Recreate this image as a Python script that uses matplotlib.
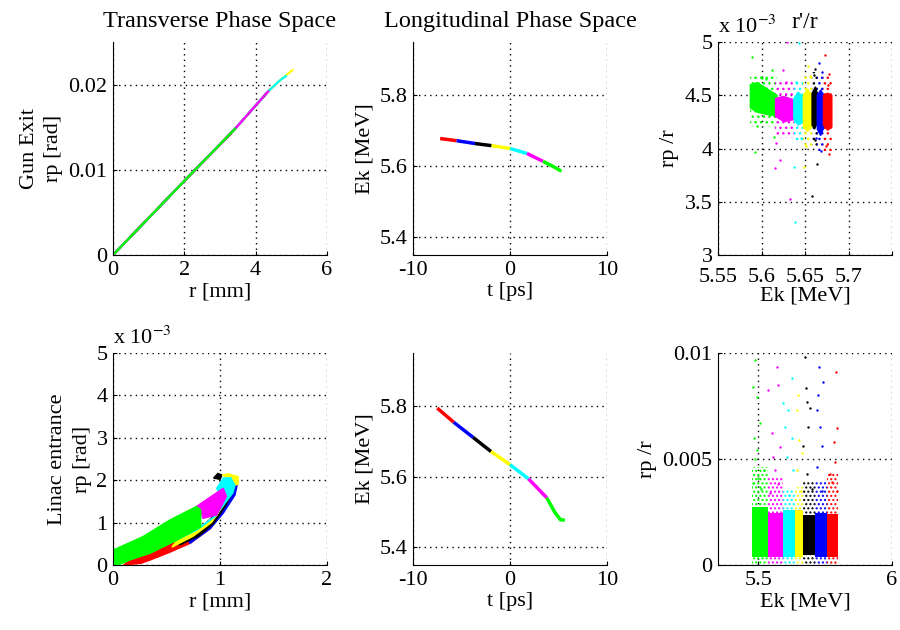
import numpy as np
import matplotlib
matplotlib.use("Agg")
import matplotlib.pyplot as plt
from matplotlib.ticker import FixedLocator, FixedFormatter

plt.rcParams['font.family'] = ['Liberation Serif', 'DejaVu Serif']
plt.rcParams['font.size'] = 16
plt.rcParams['axes.unicode_minus'] = False
plt.rcParams['mathtext.fontset'] = 'stix'
plt.rcParams['hatch.linewidth'] = 1.0

# matlab colours
cols = {'r': (1, 0, 0), 'b': (0, 0, 1), 'k': (0, 0, 0), 'y': (1, 1, 0),
        'c': (0, 1, 1), 'm': (1, 0, 1), 'g': (0, 1, 0)}
order = ['r', 'b', 'k', 'y', 'c', 'm', 'g']
order_e = ['g', 'm', 'c', 'y', 'k', 'b', 'r']

# --- gun exit, transverse (r [mm], rp [rad])
gun_r = {'r': [0, 2.0, 3.3], 'b': [0, 2.0, 3.42, 4.3], 'k': [0, 2.0, 3.42, 4.4],
         'y': [0, 2.0, 3.42, 4.35, 4.68, 5.03], 'c': [0, 2.0, 3.42, 4.35, 4.68, 4.85],
         'm': [0, 2.0, 3.42, 4.35], 'g': [0, 2.0, 3.42]}
gun_rp = {'r': [0, 0.0087, 0.0142], 'b': [0, 0.0087, 0.0148, 0.0190], 'k': [0, 0.0087, 0.0148, 0.0194],
          'y': [0, 0.0087, 0.0148, 0.0192, 0.0205, 0.0217], 'c': [0, 0.0087, 0.0148, 0.0192, 0.0205, 0.0210],
          'm': [0, 0.0087, 0.0148, 0.0192], 'g': [0, 0.0087, 0.0148]}

# --- gun exit, longitudinal (t [ps], Ek [MeV])
gun_t = {'r': [-7.2, -5.5], 'b': [-5.5, -3.6], 'k': [-3.6, -1.9], 'y': [-1.9, 0.0],
         'c': [0.0, 1.75], 'm': [1.75, 3.4], 'g': [3.4, 4.4, 5.3]}
gun_ek = {'r': [5.678, 5.672], 'b': [5.672, 5.664], 'k': [5.664, 5.658], 'y': [5.658, 5.650],
          'c': [5.650, 5.636], 'm': [5.636, 5.614], 'g': [5.614, 5.600, 5.586]}

# --- linac entrance, longitudinal
lin_t = {'r': [-7.5, -5.8], 'b': [-5.8, -3.8], 'k': [-3.8, -1.95], 'y': [-1.95, 0.0],
         'c': [0.0, 1.9], 'm': [1.9, 3.8], 'g': [3.8, 4.6, 5.2, 5.65]}
lin_ek = {'r': [5.794, 5.754], 'b': [5.754, 5.711], 'k': [5.711, 5.671], 'y': [5.671, 5.634],
          'c': [5.634, 5.594], 'm': [5.594, 5.540], 'g': [5.540, 5.500, 5.478, 5.477]}

# --- linac entrance, transverse cloud outlines (r [mm], rp [1e-3 rad]); several patches per colour
lin_r = {'r': [[0.10, 0.26, 0.35, 0.53, 0.72, 0.91, 0.95, 0.82, 0.60, 0.35, 0.16]],
         'b': [[0.72, 0.91, 1.03, 1.14, 1.17, 1.12, 1.06, 0.97, 0.82, 0.70]],
         'k': [[0.62, 0.80, 0.94, 1.04, 1.12, 1.15, 1.10, 1.04, 0.96, 0.82, 0.62],
               [0.94, 0.98, 1.02, 1.00]],
         'y': [[0.55, 0.75, 0.92, 1.03, 1.10, 1.06, 0.97, 0.82, 0.60],
               [1.02, 1.08, 1.17, 1.17, 1.13, 1.12]],
         'c': [[0.97, 1.03, 1.10, 1.14, 1.12, 1.06, 1.00, 0.93, 0.78, 0.60, 0.45,
                0.50, 0.70, 0.82, 0.97, 1.02]],
         'm': [[0.78, 1.03, 1.06, 0.97, 0.84, 0.82]],
         'g': [[0.0, 0.0, 0.28, 0.53, 0.78, 0.82, 0.82, 0.60, 0.35, 0.16, 0.05]]}
lin_rp = {'r': [[0.0, 0.04, 0.12, 0.30, 0.51, 0.86, 1.00, 0.90, 0.59, 0.28, 0.12]],
          'b': [[0.51, 0.86, 1.22, 1.65, 2.00, 1.95, 1.62, 1.18, 0.90, 0.62]],
          'k': [[0.47, 0.68, 0.98, 1.35, 1.72, 1.95, 1.88, 1.60, 1.20, 0.88, 0.56],
                [2.05, 2.16, 2.12, 2.02]],
          'y': [[0.42, 0.68, 1.00, 1.40, 1.80, 1.62, 1.18, 0.90, 0.59],
                [2.12, 2.15, 2.08, 1.90, 1.88, 2.02]],
          'c': [[1.81, 2.05, 2.06, 1.88, 1.70, 1.50, 1.30, 1.10, 0.82, 0.60, 0.42,
                 0.48, 0.75, 0.90, 1.18, 1.50]],
          'm': [[1.38, 1.81, 1.62, 1.18, 1.10, 1.30]],
          'g': [[0.0, 0.35, 0.67, 1.06, 1.38, 1.30, 0.90, 0.59, 0.28, 0.12, 0.0]]}

# --- gun exit rp/r vs Ek [1e-3]: dense core outline, sparse halo band, stray particles
g_core_ek = {'g': [5.587, 5.587, 5.595, 5.605, 5.618, 5.618, 5.605, 5.595],
             'm': [5.616, 5.616, 5.625, 5.637, 5.637, 5.626],
             'c': [5.637, 5.637, 5.642, 5.648, 5.648, 5.642],
             'y': [5.648, 5.648, 5.653, 5.658, 5.658, 5.653],
             'k': [5.658, 5.658, 5.662, 5.665, 5.665, 5.661],
             'b': [5.664, 5.664, 5.668, 5.672, 5.672, 5.668],
             'r': [5.671, 5.671, 5.676, 5.681, 5.681, 5.676]}
g_core_rr = {'g': [4.38, 4.60, 4.62, 4.57, 4.50, 4.30, 4.32, 4.34],
             'm': [4.30, 4.47, 4.49, 4.46, 4.27, 4.25],
             'c': [4.28, 4.47, 4.53, 4.49, 4.24, 4.22],
             'y': [4.20, 4.50, 4.56, 4.50, 4.20, 4.16],
             'k': [4.22, 4.52, 4.58, 4.50, 4.25, 4.18],
             'b': [4.18, 4.50, 4.55, 4.50, 4.20, 4.12],
             'r': [4.22, 4.50, 4.52, 4.50, 4.20, 4.17]}
g_halo_lo = {'g': 4.20, 'm': 4.10, 'c': 4.08, 'y': 4.02, 'k': 4.00, 'b': 3.98, 'r': 3.98}
g_halo_hi = {'g': 4.70, 'm': 4.62, 'c': 4.65, 'y': 4.68, 'k': 4.72, 'b': 4.70, 'r': 4.68}
g_out_ek = {'g': [5.589, 5.593, 5.600, 5.614, 5.612, 5.595, 5.605],
            'm': [5.629, 5.625, 5.616, 5.633, 5.621, 5.617, 5.628],
            'c': [5.643, 5.637, 5.639, 5.645, 5.640],
            'y': [5.654, 5.649, 5.651, 5.656],
            'k': [5.660, 5.664, 5.658, 5.662, 5.661],
            'b': [5.666, 5.668, 5.663, 5.670],
            'r': [5.673, 5.678, 5.678, 5.674, 5.676]}
g_out_rr = {'g': [4.86, 3.97, 4.66, 4.11, 4.74, 4.21, 4.65],
            'm': [5.00, 4.74, 3.82, 3.53, 3.89, 4.05, 4.62],
            'c': [4.99, 3.83, 3.31, 4.10, 4.62],
            'y': [4.77, 3.83, 4.02, 4.68],
            'k': [4.69, 3.85, 3.55, 4.08, 4.75],
            'b': [4.80, 3.98, 4.10, 4.72],
            'r': [4.88, 3.95, 4.70, 4.02, 4.60]}

# --- linac entrance rp/r vs Ek [1e-3]
l_ek_lo = {'g': 5.476, 'm': 5.538, 'c': 5.594, 'y': 5.638, 'k': 5.669, 'b': 5.712, 'r': 5.756}
l_ek_hi = {'g': 5.538, 'm': 5.594, 'c': 5.638, 'y': 5.669, 'k': 5.712, 'b': 5.756, 'r': 5.800}
l_rr_lo = {'g': 0.40, 'm': 0.40, 'c': 0.40, 'y': 0.40, 'k': 0.45, 'b': 0.40, 'r': 0.40}
l_rr_hi = {'g': 2.75, 'm': 2.45, 'c': 2.60, 'y': 2.60, 'k': 2.35, 'b': 2.45, 'r': 2.40}
l_halo_hi = {'g': 4.60, 'm': 4.10, 'c': 3.60, 'y': 3.70, 'k': 3.90, 'b': 3.90, 'r': 4.30}
l_out_ek = {'g': [5.489, 5.482, 5.495, 5.507, 5.495, 5.520, 5.481, 5.500, 5.485, 5.512, 5.490],
            'm': [5.570, 5.576, 5.538, 5.551, 5.582, 5.557, 5.562, 5.545, 5.575],
            'c': [5.628, 5.594, 5.612, 5.601, 5.626, 5.607, 5.631, 5.615],
            'y': [5.650, 5.644, 5.654, 5.662, 5.644, 5.660],
            'k': [5.675, 5.679, 5.681, 5.694, 5.687, 5.669, 5.681, 5.700],
            'b': [5.729, 5.744, 5.724, 5.718, 5.731, 5.737, 5.718, 5.740],
            'r': [5.791, 5.794, 5.784, 5.787, 5.769, 5.796, 5.775]}
l_out_rr = {'g': [9.67, 8.41, 7.94, 6.70, 5.42, 4.48, 3.87, 4.10, 6.00, 3.60, 5.00],
            'm': [9.35, 8.49, 8.25, 6.21, 5.58, 5.10, 4.50, 3.40, 3.80],
            'c': [8.80, 7.63, 7.30, 6.52, 6.00, 5.10, 4.50, 3.30],
            'y': [8.02, 7.30, 5.90, 5.30, 4.50, 3.50],
            'k': [9.83, 8.33, 7.70, 7.40, 6.50, 5.60, 4.30, 3.60],
            'b': [9.35, 8.65, 8.00, 7.30, 6.50, 5.60, 4.60, 3.50],
            'r': [9.12, 6.45, 5.81, 4.88, 4.30, 3.50, 3.90]}

fig = plt.figure(figsize=(9, 6.3), dpi=100)
W, H = 900.0, 630.0


def mkax(x0, x1, y0, y1):
    ax = fig.add_axes([x0 / W, 1 - y1 / H, (x1 - x0) / W, (y1 - y0) / H])
    ax.spines['top'].set_visible(False)
    ax.spines['right'].set_visible(False)
    ax.grid(True, linestyle=(0, (1, 3)), color='k', linewidth=1)
    ax.set_axisbelow(True)
    ax.tick_params(direction='in', length=3, pad=4)
    return ax


def ticks(ax, xt, xl, yt, yl):
    ax.xaxis.set_major_locator(FixedLocator(xt))
    ax.xaxis.set_major_formatter(FixedFormatter(xl))
    ax.yaxis.set_major_locator(FixedLocator(yt))
    ax.yaxis.set_major_formatter(FixedFormatter(yl))


# top left
ax = mkax(113, 327, 42, 255)
for c in order:
    ax.plot(gun_r[c], gun_rp[c], color=cols[c], lw=1.6)
ax.set_xlim(0, 6)
ax.set_ylim(0, 0.025)
ticks(ax, [0, 2, 4, 6], ['0', '2', '4', '6'], [0, 0.01, 0.02], ['0', '0.01', '0.02'])
ax.set_xlabel('r [mm]', labelpad=2)
ax.set_ylabel('Gun Exit\nrp [rad]', labelpad=4, linespacing=1.35)
ax.set_title('Transverse Phase Space', pad=11, fontsize=17.5)

# top middle
ax = mkax(413, 607, 42, 255)
for c in order:
    ax.plot(gun_t[c], gun_ek[c], color=cols[c], lw=2.5, solid_capstyle='butt')
ax.set_xlim(-10, 10)
ax.set_ylim(5.35, 5.95)
ticks(ax, [-10, 0, 10], ['-10', '0', '10'], [5.4, 5.6, 5.8], ['5.4', '5.6', '5.8'])
ax.set_xlabel('t [ps]', labelpad=2)
ax.set_ylabel('Ek [MeV]', labelpad=4)
ax.set_title('Longitudinal Phase Space', pad=11, fontsize=17.5)

# top right
ax = mkax(718, 892, 42, 255)
for c in order_e:
    ax.fill_between([min(g_core_ek[c]), max(g_core_ek[c])], g_halo_lo[c], g_halo_hi[c],
                    facecolor='none', edgecolor=cols[c], hatch='...', linewidth=0)
for c in order_e:
    ax.fill(g_core_ek[c], g_core_rr[c], color=cols[c], linewidth=0.8)
    ax.scatter(g_out_ek[c], g_out_rr[c], s=3, color=cols[c], linewidths=0)
ax.set_xlim(5.55, 5.75)
ax.set_ylim(3, 5)
ticks(ax, [5.55, 5.6, 5.65, 5.7, 5.75], ['5.55', '5.6', '5.65', '5.7', ''],
      [3, 3.5, 4, 4.5, 5], ['3', '3.5', '4', '4.5', '5'])
ax.tick_params(axis='x', pad=9)
ax.set_xlabel('Ek [MeV]', labelpad=0)
ax.set_ylabel('rp /r', labelpad=4)
ax.set_title("r'/r", pad=10, fontsize=17)
ax.text(0, 1.02, r'x 10$^{-3}$', transform=ax.transAxes, ha='left', va='bottom', fontsize=16)

# bottom left
ax = mkax(113, 327, 353, 565)
for c in order:
    for pr, pp in zip(lin_r[c], lin_rp[c]):
        ax.fill(pr, pp, color=cols[c], linewidth=1.0, edgecolor=cols[c])
ax.set_xlim(0, 2)
ax.set_ylim(0, 5)
ticks(ax, [0, 1, 2], ['0', '1', '2'], [0, 1, 2, 3, 4, 5], ['0', '1', '2', '3', '4', '5'])
ax.set_xlabel('r [mm]', labelpad=2)
ax.set_ylabel('Linac entrance\nrp [rad]', labelpad=3, linespacing=1.45)
ax.text(0, 1.02, r'x 10$^{-3}$', transform=ax.transAxes, ha='left', va='bottom', fontsize=16)

# bottom middle
ax = mkax(413, 607, 353, 565)
for c in order:
    ax.plot(lin_t[c], lin_ek[c], color=cols[c], lw=2.5, solid_capstyle='butt')
ax.set_xlim(-10, 10)
ax.set_ylim(5.35, 5.95)
ticks(ax, [-10, 0, 10], ['-10', '0', '10'], [5.4, 5.6, 5.8], ['5.4', '5.6', '5.8'])
ax.set_xlabel('t [ps]', labelpad=2)
ax.set_ylabel('Ek [MeV]', labelpad=4)

# bottom right
ax = mkax(718, 892, 353, 565)
for c in order_e:
    ax.fill_between([l_ek_lo[c], l_ek_hi[c]], 0.0, l_halo_hi[c],
                    facecolor='none', edgecolor=cols[c], hatch='....', linewidth=0)
    ax.bar(l_ek_lo[c], l_rr_hi[c] - l_rr_lo[c], width=l_ek_hi[c] - l_ek_lo[c],
           bottom=l_rr_lo[c], align='edge', color=cols[c], linewidth=0)
    ax.scatter(l_out_ek[c], l_out_rr[c], s=3, color=cols[c], linewidths=0)
ax.set_xlim(5.35, 6.0)
ax.set_ylim(0, 10)
ticks(ax, [5.5, 6.0], ['5.5', '6'], [0, 5, 10], ['0', '0.005', '0.01'])
ax.set_xlabel('Ek [MeV]', labelpad=2)
ax.set_ylabel('rp /r', labelpad=4)

fig.savefig('out.png', dpi=100)
